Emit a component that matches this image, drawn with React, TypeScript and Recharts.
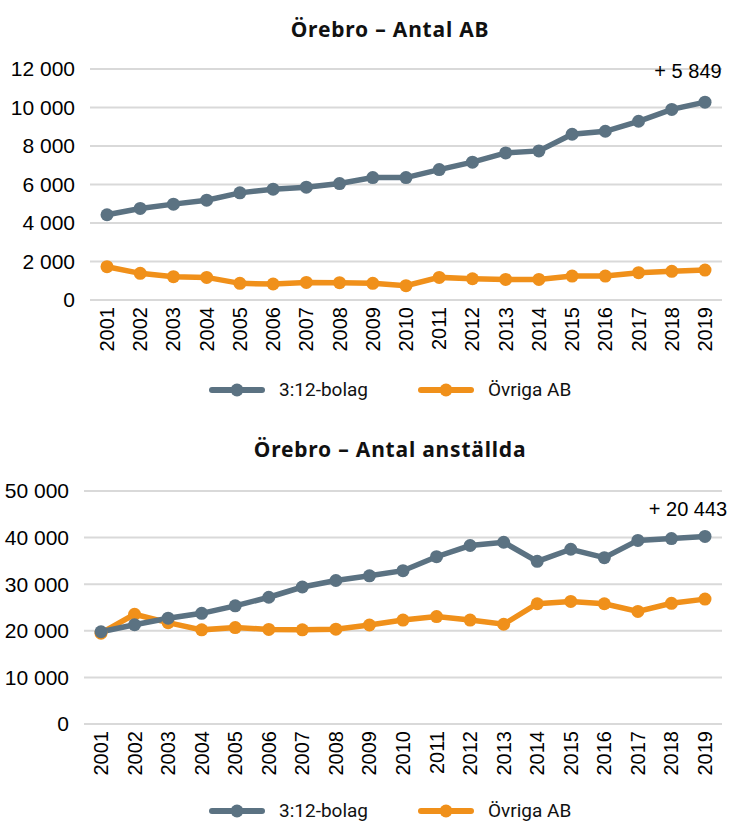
import React from "react";
import { LineChart, Line, XAxis, YAxis, CartesianGrid, LabelList } from "recharts";

// år på x-axeln
const years = [
  "2001", "2002", "2003", "2004", "2005", "2006", "2007", "2008", "2009", "2010",
  "2011", "2012", "2013", "2014", "2015", "2016", "2017", "2018", "2019",
];

// Örebro – Antal AB
const abBolag312 = [4430, 4755, 4980, 5185, 5565, 5755, 5860, 6050, 6360, 6360, 6775, 7160, 7640, 7745, 8610, 8765, 9285, 9900, 10279];
const abOvriga = [1730, 1385, 1210, 1175, 865, 830, 915, 900, 865, 745, 1175, 1105, 1070, 1070, 1245, 1245, 1420, 1490, 1555];
const abTicks = [0, 2000, 4000, 6000, 8000, 10000, 12000];
const abNote = "+ 5 849";

// Örebro – Antal anställda
const anstBolag312 = [19800, 21300, 22700, 23750, 25350, 27200, 29400, 30800, 31800, 32900, 35900, 38300, 39000, 34900, 37500, 35700, 39400, 39800, 40243];
const anstOvriga = [19500, 23550, 21750, 20200, 20700, 20300, 20200, 20350, 21250, 22300, 23050, 22300, 21400, 25800, 26300, 25800, 24150, 25900, 26800];
const anstTicks = [0, 10000, 20000, 30000, 40000, 50000];
const anstNote = "+ 20 443";

const seriesNames = ["3:12-bolag", "Övriga AB"];
const GREY = "#5b7282";
const ORANGE = "#f0901a";

const abData = years.map((y, i) => ({ year: y, bolag: abBolag312[i], ovriga: abOvriga[i] }));
const anstData = years.map((y, i) => ({ year: y, bolag: anstBolag312[i], ovriga: anstOvriga[i] }));

const fmt = (v: number) => String(v).replace(/\B(?=(\d{3})+(?!\d))/g, " ");

const HELV = "'Liberation Sans', Arial, sans-serif";
const TITLE_FONT = "'Noto Sans', Roboto, sans-serif";

const YearTick = (props: any) => {
  const { x, y, payload } = props;
  return (
    <text
      x={x}
      y={y}
      transform={`rotate(-90, ${x}, ${y})`}
      textAnchor="end"
      dominantBaseline="central"
      fontFamily={HELV}
      fontSize={20}
      fill="#000"
    >
      {payload.value}
    </text>
  );
};

const lastNote = (text: string, dy: number) => (props: any) => {
  const { x, y, index } = props;
  if (index !== years.length - 1) return null;
  return (
    <text x={x - 17} y={y + dy} textAnchor="middle" fontFamily={HELV} fontSize={20} fill="#000">
      {text}
    </text>
  );
};

const Legend = ({ top }: { top: number }) => {
  const items = [
    { name: seriesNames[0], color: GREY, x: 209, tx: 279 },
    { name: seriesNames[1], color: ORANGE, x: 418, tx: 488 },
  ];
  return (
    <>
      {items.map((it) => (
        <React.Fragment key={it.name}>
          <svg width={58} height={14} style={{ position: "absolute", left: it.x - 1, top: top - 7 }}>
            <line x1={4} y1={7} x2={54} y2={7} stroke={it.color} strokeWidth={6} strokeLinecap="round" />
            <circle cx={29} cy={7} r={6.5} fill={it.color} />
          </svg>
          <div
            style={{
              position: "absolute",
              left: it.tx,
              top: top - 12,
              lineHeight: "24px",
              fontFamily: "Roboto, sans-serif",
              fontSize: 19,
              color: "#111",
              whiteSpace: "nowrap",
            }}
          >
            {it.name}
          </div>
        </React.Fragment>
      ))}
    </>
  );
};

const Title = ({ text, top }: { text: string; top: number }) => (
  <div
    style={{
      position: "absolute",
      left: 0,
      width: 780,
      top,
      textAlign: "center",
      fontFamily: TITLE_FONT,
      fontWeight: 700,
      fontSize: 21,
      letterSpacing: 0.8,
      lineHeight: "24px",
      color: "#111",
    }}
  >
    {text}
  </div>
);

const Chart = (p: {
  data: any[];
  ticks: number[];
  note: string;
  noteDy: number;
  height: number;
  marginTop: number;
  yWidth: number;
  xHeight: number;
}) => (
  <LineChart
    width={731}
    height={p.height}
    data={p.data}
    margin={{ top: p.marginTop, right: 9, bottom: 0, left: 0 }}
  >
    <CartesianGrid vertical={false} stroke="#d9d9d9" strokeWidth={2} />
    <XAxis
      dataKey="year"
      scale="point"
      padding={{ left: 17, right: 17 }}
      interval={0}
      axisLine={false}
      tickLine={false}
      tickSize={0}
      tickMargin={7}
      height={p.xHeight}
      tick={<YearTick />}
    />
    <YAxis
      width={p.yWidth}
      domain={[p.ticks[0], p.ticks[p.ticks.length - 1]]}
      ticks={p.ticks}
      interval={0}
      axisLine={false}
      tickLine={false}
      tickSize={0}
      tickMargin={15}
      tickFormatter={fmt}
      tick={{ fontFamily: HELV, fontSize: 21, fill: "#000" }}
    />
    <Line
      dataKey="ovriga"
      type="linear"
      stroke={ORANGE}
      strokeWidth={5.5}
      dot={{ r: 6.5, fill: ORANGE, stroke: ORANGE, strokeWidth: 0 }}
      activeDot={false}
      isAnimationActive={false}
    />
    <Line
      dataKey="bolag"
      type="linear"
      stroke={GREY}
      strokeWidth={5.5}
      dot={{ r: 6.5, fill: GREY, stroke: GREY, strokeWidth: 0 }}
      activeDot={false}
      isAnimationActive={false}
    >
      <LabelList dataKey="bolag" content={lastNote(p.note, p.noteDy)} />
    </Line>
  </LineChart>
);

export default function App() {
  return (
    <div style={{ position: "absolute", left: 0, top: 0, width: 731, height: 823, background: "#fff" }}>
      <Title text="Örebro – Antal AB" top={17} />
      <div style={{ position: "absolute", left: 0, top: 0 }}>
        <Chart data={abData} ticks={abTicks} note={abNote} noteDy={-24} height={360} marginTop={69} yWidth={90} xHeight={60} />
      </div>
      <Legend top={390} />

      <Title text="Örebro – Antal anställda" top={437} />
      <div style={{ position: "absolute", left: 0, top: 420 }}>
        <Chart data={anstData} ticks={anstTicks} note={anstNote} noteDy={-20} height={370} marginTop={71} yWidth={84} xHeight={66} />
      </div>
      <Legend top={811} />
    </div>
  );
}
